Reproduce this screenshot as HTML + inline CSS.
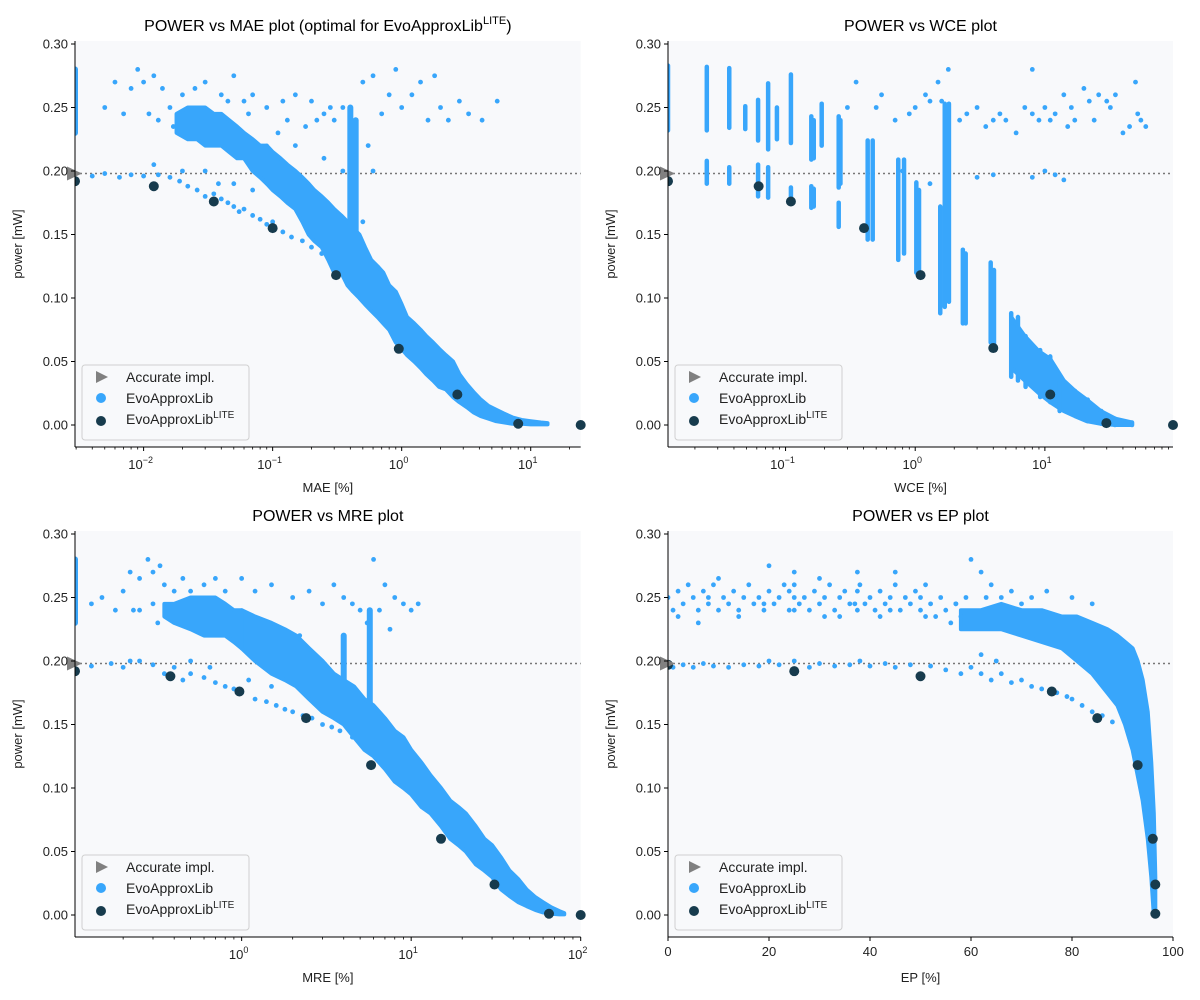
<!DOCTYPE html>
<html><head><meta charset="utf-8">
<style>
html,body{margin:0;padding:0;background:#fff;}
svg{display:block;font-family:"Liberation Sans","DejaVu Sans",sans-serif;}
</style></head>
<body>
<svg id="chart" width="1200" height="1000" viewBox="0 0 1200 1000" xmlns="http://www.w3.org/2000/svg"></svg>
<script>
// ===== DATA =====
const powerTicks=[0,0.05,0.10,0.15,0.20,0.25,0.30];
const powerTickLabels=["0.00","0.05","0.10","0.15","0.20","0.25","0.30"];
const accuratePower=0.198;

// MAE panel — main dense band
const maeBandX=[0.09,0.1,0.115,0.13,0.15,0.17,0.19,0.21,0.24,0.27,0.3,0.34,0.38,0.42,0.47,0.52,0.58,0.65,0.72,0.8,0.9,1.0,1.1,1.25,1.4,1.55,1.75,1.95,2.2,2.5,2.8,3.2,3.6,4.1,4.7,5.4,6.2,7.2,8.5,10,12,13.5];
const maeBandLo=[0.19,0.185,0.18,0.175,0.17,0.16,0.15,0.145,0.14,0.13,0.12,0.12,0.11,0.105,0.10,0.095,0.09,0.085,0.08,0.075,0.065,0.06,0.055,0.05,0.045,0.04,0.035,0.03,0.028,0.022,0.018,0.014,0.01,0.007,0.005,0.003,0.002,0.001,0.001,0.0005,0.0005,0.0005];
const maeBandHi=[0.22,0.215,0.21,0.205,0.2,0.195,0.19,0.185,0.18,0.175,0.17,0.165,0.16,0.155,0.15,0.14,0.13,0.125,0.12,0.11,0.105,0.095,0.085,0.08,0.075,0.07,0.065,0.06,0.055,0.05,0.04,0.032,0.026,0.02,0.015,0.012,0.009,0.006,0.004,0.003,0.002,0.0015];
// MAE upper cluster
const maeClusterX=[0.018,0.022,0.026,0.03,0.035,0.04,0.046,0.053,0.06,0.07,0.08,0.09];
const maeClusterLo=[0.23,0.225,0.225,0.22,0.22,0.22,0.215,0.21,0.21,0.2,0.195,0.19];
const maeClusterHi=[0.245,0.25,0.25,0.25,0.245,0.245,0.24,0.235,0.23,0.225,0.22,0.22];
// MAE streaks
const maeStreakX=[0.4,0.44,0.00294];
const maeStreakLo=[0.15,0.14,0.23];
const maeStreakHi=[0.25,0.24,0.28];
const maeX=[0.005,0.006,0.007,0.008,0.009,0.01,0.011,0.012,0.014,0.016,0.02,0.025,0.03,0.04,0.05,0.06,0.07,0.09,0.12,0.15,0.2,0.25,0.3,0.35,0.5,0.6,0.7,0.9,1.0,1.2,1.4,1.6,2.0,2.3,2.8,3.3,4.2,5.5,0.22,0.28,0.8,1.8,
 0.004,0.005,0.0065,0.008,0.01,0.013,0.016,0.019,0.022,0.026,0.03,0.035,0.04,0.045,0.05,0.055,0.06,0.07,0.08,0.09,0.1,0.12,0.14,0.17,0.2,0.24,0.28,0.33,0.03,0.05,0.07,0.012,0.02,
 0.15,0.25,0.35,0.5,0.6,0.55,0.013,0.017,0.045,0.065,0.11,0.13,0.18,0.16,0.038,0.028];
const maeY=[0.25,0.27,0.245,0.265,0.28,0.27,0.245,0.275,0.265,0.25,0.26,0.265,0.27,0.26,0.275,0.255,0.26,0.25,0.255,0.26,0.255,0.245,0.24,0.25,0.27,0.275,0.245,0.28,0.25,0.26,0.27,0.24,0.25,0.24,0.255,0.245,0.24,0.255,0.24,0.25,0.26,0.275,
 0.196,0.198,0.195,0.197,0.196,0.197,0.195,0.192,0.188,0.185,0.18,0.182,0.178,0.175,0.172,0.168,0.17,0.165,0.162,0.158,0.16,0.152,0.148,0.145,0.14,0.135,0.128,0.12,0.2,0.19,0.185,0.205,0.2,
 0.22,0.21,0.2,0.16,0.2,0.22,0.24,0.235,0.255,0.245,0.23,0.24,0.235,0.175,0.19,0.24];
const liteMaeX=[0.00294,0.012,0.035,0.1,0.31,0.95,2.7,8,24.4];
const liteMaeY=[0.192,0.188,0.176,0.155,0.118,0.060,0.024,0.001,0.0];

// WCE panel
const wceDenseX=[0.0124,0.0247,0.0247,0.0368,0.0368,0.0489,0.0614,0.0614,0.0734,0.0734,0.0858,0.110,0.110,0.158,0.158,0.165,0.165,0.19,0.257,0.257,0.265,0.43,0.47,0.74,0.82,1.02,1.07,1.56,1.69,1.82,2.33,2.45,3.82,4.05,5.5,6.2,7.1,9.2,11,13,17,21.4,27.3,34.7,47];
const wceDenseLo=[0.232,0.232,0.19,0.234,0.19,0.233,0.224,0.18,0.217,0.179,0.225,0.222,0.176,0.209,0.171,0.21,0.172,0.22,0.187,0.156,0.19,0.146,0.146,0.13,0.135,0.12,0.122,0.088,0.093,0.097,0.08,0.08,0.065,0.062,0.038,0.035,0.03,0.022,0.018,0.011,0.009,0.003,0.001,0.0,0.0];
const wceDenseHi=[0.283,0.282,0.208,0.281,0.203,0.251,0.256,0.205,0.269,0.203,0.25,0.276,0.187,0.243,0.188,0.24,0.186,0.253,0.243,0.175,0.24,0.224,0.224,0.209,0.209,0.191,0.185,0.172,0.253,0.253,0.138,0.135,0.128,0.122,0.088,0.085,0.07,0.059,0.054,0.035,0.027,0.02,0.011,0.005,0.002];
// WCE tail band (dense diagonal)
const wceBandX=[5.5,7,9,11,14,17,21,27,35,47];
const wceBandLo=[0.045,0.035,0.025,0.018,0.011,0.007,0.003,0.001,0.0,0.0];
const wceBandHi=[0.085,0.07,0.058,0.052,0.035,0.027,0.02,0.011,0.005,0.002];
const wceX=[1.2,1.5,1.6,2.5,3,3.5,4,5,6,7,8,9,10,12,14,15,16,17,20,22,24,30,32,35,40,50,52,55,60,0.5,0.55,0.7,0.9,0.35,1.0,8,0.3,1.8,1.3,2.2,4.5,11,26,45,
 0.8,1.3,3,4,10,12,14,8];
const wceY=[0.26,0.27,0.255,0.245,0.25,0.235,0.24,0.24,0.23,0.25,0.245,0.24,0.25,0.245,0.26,0.235,0.25,0.24,0.265,0.255,0.24,0.255,0.25,0.26,0.23,0.27,0.245,0.24,0.235,0.25,0.26,0.24,0.245,0.27,0.25,0.28,0.25,0.28,0.255,0.24,0.245,0.24,0.26,0.235,
 0.2,0.19,0.195,0.197,0.2,0.197,0.193,0.195];
const liteWceX=[0.0124,0.062,0.11,0.403,1.1,4.0,11.0,29.8,97.3];
const liteWceY=[0.192,0.188,0.176,0.155,0.118,0.0606,0.024,0.0015,0.0];

// MRE panel
const mreBandX=[1.0,1.2,1.5,1.8,2.1,2.5,3,3.5,4,4.6,5.3,6,7,8,9,10,11.5,13,15,17,19,21,24,27,30,34,38,43,48,54,60,67,75,80];
const mreBandLo=[0.21,0.2,0.19,0.185,0.18,0.17,0.16,0.155,0.15,0.14,0.13,0.125,0.115,0.105,0.1,0.095,0.085,0.08,0.07,0.06,0.055,0.05,0.04,0.035,0.03,0.02,0.015,0.01,0.007,0.004,0.002,0.001,0.0005,0.0005];
const mreBandHi=[0.24,0.235,0.23,0.225,0.22,0.21,0.2,0.19,0.185,0.18,0.17,0.165,0.155,0.145,0.14,0.13,0.12,0.11,0.1,0.09,0.085,0.08,0.07,0.06,0.055,0.045,0.035,0.028,0.02,0.014,0.01,0.006,0.003,0.0015];
const mreClusterX=[0.35,0.4,0.5,0.6,0.7,0.8,0.9,1.0];
const mreClusterLo=[0.235,0.23,0.225,0.22,0.22,0.22,0.215,0.21];
const mreClusterHi=[0.245,0.245,0.25,0.25,0.25,0.245,0.24,0.24];
const mreStreakX=[5.7,4.0,0.104];
const mreStreakLo=[0.14,0.17,0.23];
const mreStreakHi=[0.24,0.22,0.28];
const mreX=[0.15,0.18,0.2,0.22,0.25,0.28,0.3,0.33,0.35,0.4,0.45,0.5,0.6,0.7,0.8,1.0,1.2,1.5,2.0,2.5,3,3.5,4,4.5,5,6,7,8,9,10,11,6.5,5.5,0.13,0.23,0.32,7.5,
 0.13,0.17,0.2,0.25,0.3,0.35,0.4,0.45,0.5,0.6,0.7,0.8,0.9,1.0,1.2,1.4,1.6,1.8,2.0,2.3,2.6,3,3.4,3.8,4.5,5.0,0.22,0.5,0.65,1.1,1.5,0.25,0.3,1.3,2.2];
const mreY=[0.25,0.24,0.255,0.27,0.265,0.28,0.27,0.275,0.26,0.255,0.265,0.255,0.26,0.265,0.255,0.265,0.255,0.26,0.25,0.255,0.245,0.26,0.25,0.245,0.24,0.28,0.26,0.25,0.245,0.24,0.245,0.24,0.23,0.245,0.24,0.23,0.225,
 0.196,0.198,0.195,0.2,0.197,0.19,0.195,0.185,0.19,0.187,0.183,0.18,0.178,0.175,0.17,0.168,0.165,0.162,0.16,0.157,0.155,0.15,0.148,0.145,0.14,0.135,0.2,0.2,0.195,0.185,0.18,0.24,0.245,0.23,0.22];
const liteMreX=[0.104,0.38,0.97,2.4,5.8,15,31,65,100];
const liteMreY=[0.192,0.188,0.176,0.155,0.118,0.060,0.024,0.001,0.0];

// EP panel
const epBandX=[58,62,66,70,74,78,81,84,87,89,90.5,92,93,94,95,95.7,96.2,96.5];
const epBandLo=[0.225,0.225,0.225,0.22,0.215,0.21,0.2,0.19,0.175,0.165,0.15,0.13,0.11,0.09,0.06,0.03,0.0,0.0];
const epBandHi=[0.24,0.24,0.245,0.24,0.24,0.235,0.235,0.23,0.225,0.22,0.215,0.21,0.2,0.185,0.16,0.12,0.08,0.03];
const epX=[0,1,2,3,4,5,6,7,8,9,10,11,12,13,14,15,16,17,18,19,20,21,22,23,24,25,25,25,25,26,27,28,29,30,31,32,33,34,35,36,37.5,37.5,37.5,38,39,40,41,42,43,44,45,46,47,48,49,50,50,51,52,53,54,55,56,57,58,59,60,62,64,66,68,70,72,20,30,45,10,6,34,42,
 1,3,5,7,9,12,15,18,20,22,25,28,30,33,36,38,40,43,45,48,52,55,58,60,62,64,66,68,70,72,74,77,79,80,82,84,86,88,62,65,
 2,8,14,19,24,31,37,44,51,57,63,75,80,84];
const epY=[0.25,0.24,0.255,0.245,0.26,0.25,0.24,0.255,0.245,0.26,0.24,0.25,0.245,0.255,0.24,0.25,0.26,0.245,0.25,0.24,0.255,0.245,0.25,0.26,0.255,0.27,0.26,0.25,0.24,0.245,0.25,0.24,0.255,0.245,0.25,0.26,0.24,0.25,0.255,0.245,0.27,0.255,0.24,0.26,0.245,0.25,0.24,0.255,0.245,0.25,0.26,0.24,0.25,0.245,0.255,0.25,0.24,0.26,0.245,0.235,0.25,0.24,0.23,0.245,0.235,0.25,0.28,0.27,0.26,0.25,0.255,0.245,0.25,0.275,0.265,0.27,0.265,0.23,0.235,0.235,
 0.195,0.197,0.195,0.198,0.196,0.195,0.197,0.196,0.2,0.197,0.2,0.195,0.198,0.196,0.197,0.2,0.196,0.198,0.195,0.197,0.196,0.193,0.19,0.195,0.19,0.185,0.19,0.183,0.185,0.18,0.178,0.175,0.172,0.17,0.165,0.16,0.157,0.152,0.205,0.2,
 0.235,0.25,0.235,0.245,0.24,0.235,0.245,0.24,0.235,0.245,0.25,0.255,0.25,0.245];
const liteEpX=[0,25,50,76,85,93,96,96.5,96.5];
const liteEpY=[0.197,0.192,0.188,0.176,0.155,0.118,0.060,0.024,0.001];

// ===== DRAWING =====
const NS="http://www.w3.org/2000/svg";
const svg=document.getElementById('chart');
const BLUE="#38a6fb", DARK="#173b4d", GRAY="#808080";
function el(tag,attrs,parent){const e=document.createElementNS(NS,tag);for(const k in attrs)e.setAttribute(k,attrs[k]);(parent||svg).appendChild(e);return e;}

function panel(cfg){
  const g=el('g',{});
  
  
  const L=cfg.x0,R=cfg.x1,T=cfg.top,B=cfg.bottom,Z=cfg.zero;
  const yS=p=>Z-p*1270;
  let xS;
  if(cfg.log){const a=Math.log10(cfg.xmin),b=Math.log10(cfg.xmax);xS=v=>L+(Math.log10(v)-a)/(b-a)*(R-L);}
  else{xS=v=>L+(v-cfg.xmin)/(cfg.xmax-cfg.xmin)*(R-L);}
  const bg=el('rect',{x:L,y:T,width:R-L,height:B-T,fill:'#f8f9fb'},g);
  
  
  const clipId='clip-'+cfg.name;
  const cp=el('clipPath',{id:clipId},g);el('rect',{x:L,y:T-5,width:R-L+8,height:B-T+5},cp);
  const data=el('g',{'clip-path':'url(#'+clipId+')'},g);
  const dl=el('line',{x1:L,x2:R,y1:yS(accuratePower),y2:yS(accuratePower),stroke:'#777','stroke-width':1.5,'stroke-dasharray':'2,3'},data);
  
  
  // dense bands (polygons)
  (cfg.bands||[]).forEach(bd=>{
    const [bx,blo,bhi]=bd;
    const pts=[];
    for(let i=0;i<bx.length;i++)pts.push(xS(bx[i])+','+yS(bhi[i]));
    for(let i=bx.length-1;i>=0;i--)pts.push(xS(bx[i])+','+yS(blo[i]));
    const p=el('polygon',{points:pts.join(' '),fill:BLUE,stroke:BLUE,'stroke-width':4,'stroke-linejoin':'round'},data);
    
    
  });
  // dense vertical streaks
  for(let i=0;i<cfg.dx.length;i++){
    const s=el('line',{x1:xS(cfg.dx[i]),x2:xS(cfg.dx[i]),y1:yS(cfg.dlo[i]),y2:yS(cfg.dhi[i]),stroke:BLUE,'stroke-width':cfg.w||5,'stroke-linecap':'round'},data);
    
    
  }
  for(let i=0;i<cfg.px.length;i++){
    const c=el('circle',{cx:xS(cfg.px[i]),cy:yS(cfg.py[i]),r:2.4,fill:BLUE},data);
    
    
  }
  for(let i=0;i<cfg.lx.length;i++){
    const c=el('circle',{cx:xS(cfg.lx[i]),cy:yS(cfg.ly[i]),r:5,fill:DARK},data);
    
    
  }
  const ax=xS(cfg.xmin),ay=yS(accuratePower);
  const tri=el('polygon',{points:`${ax-8},${ay-7} ${ax+7},${ay} ${ax-8},${ay+7}`,fill:GRAY},g);
  
  
  el('line',{x1:L,x2:L,y1:T,y2:B,stroke:'#000','stroke-width':1},g);
  el('line',{x1:L,x2:R,y1:B,y2:B,stroke:'#000','stroke-width':1},g);
  powerTicks.forEach((v,i)=>{
    const y=yS(v);
    el('line',{x1:L-4,x2:L,y1:y,y2:y,stroke:'#000'},g);
    const t=el('text',{x:L-7,y:y+4.5,'text-anchor':'end','font-size':13,fill:'#222'},g);
    t.textContent=powerTickLabels[i];
    
    
  });
  if(cfg.log){
    const a=Math.floor(Math.log10(cfg.xmin)),b=Math.ceil(Math.log10(cfg.xmax));
    for(let d=a;d<=b;d++){
      for(let m=1;m<10;m++){
        const v=m*Math.pow(10,d);
        if(v<cfg.xmin*0.999||v>cfg.xmax*1.001)continue;
        const x=xS(v);
        el('line',{x1:x,x2:x,y1:B,y2:B+(m===1?4:2.5),stroke:'#000','stroke-width':m===1?1:0.8},g);
        if(m===1){
          const t=el('text',{x:x-3,y:B+22,'text-anchor':'middle','font-size':13,fill:'#222'},g);
          
          
          const s1=el('tspan',{},t);s1.textContent='10';
          const s2=el('tspan',{dy:-6,'font-size':9},t);s2.textContent=String(d).replace('-','\u2212');
        }
      }
    }
  } else {
    cfg.ticks.forEach(v=>{
      const x=xS(v);
      el('line',{x1:x,x2:x,y1:B,y2:B+4,stroke:'#000'},g);
      const t=el('text',{x:x,y:B+19,'text-anchor':'middle','font-size':13,fill:'#222'},g);
      t.textContent=String(v);
      
      
    });
  }
  const xl=el('text',{x:(L+R)/2,y:B+45,'text-anchor':'middle','font-size':13,fill:'#222'},g);
  xl.textContent=cfg.xlabel;
  
  
  const yl=el('text',{x:0,y:0,'text-anchor':'middle','font-size':13,fill:'#222',transform:`translate(${L-53},${(T+B)/2}) rotate(-90)`},g);
  yl.textContent='power [mW]';
  
  
  const ti=el('text',{x:(L+R)/2,y:T-10,'text-anchor':'middle','font-size':16,fill:'#000'},g);
  
  
  const t1=el('tspan',{},ti);t1.textContent=cfg.title;
  if(cfg.titleSup){const t2=el('tspan',{dy:-7,'font-size':11},ti);t2.textContent='LITE';const t3=el('tspan',{dy:7},ti);t3.textContent=')';}
  const lg=el('g',{},g);
  
  
  const lx=L+7,ly=B-82;
  el('rect',{x:lx,y:ly,width:167,height:75,rx:3,fill:'#f8f9fb',stroke:'#d0d0d0'},lg);
  el('polygon',{points:`${lx+14},${ly+6} ${lx+26},${ly+12} ${lx+14},${ly+18}`,fill:GRAY},lg);
  el('circle',{cx:lx+19,cy:ly+33,r:5,fill:BLUE},lg);
  el('circle',{cx:lx+19,cy:ly+56,r:5,fill:DARK},lg);
  const names=['Accurate impl.','EvoApproxLib','EvoApproxLib'];
  const nn=['legend-entry-accurate','legend-entry-evoapproxlib','legend-entry-lite'];
  names.forEach((n,i)=>{
    const t=el('text',{x:lx+44,y:ly+17+i*21,'font-size':14,fill:'#222'},lg);
    
    
    const a=el('tspan',{},t);a.textContent=n;
    if(i===2){const s=el('tspan',{dy:-6,'font-size':10},t);s.textContent='LITE';}
  });
}

panel({name:'mae',x0:75,x1:580.7,top:41,bottom:447,zero:425,log:true,xmin:0.00294,xmax:24.4,
  bands:[[maeBandX,maeBandLo,maeBandHi],[maeClusterX,maeClusterLo,maeClusterHi]],
  dx:maeStreakX,dlo:maeStreakLo,dhi:maeStreakHi,px:maeX,py:maeY,lx:liteMaeX,ly:liteMaeY,
  xlabel:'MAE [%]',title:'POWER vs MAE plot (optimal for EvoApproxLib',titleSup:true,w:6});
panel({name:'wce',x0:668,x1:1173,top:41,bottom:447,zero:425,log:true,xmin:0.0124,xmax:97.3,
  bands:[[wceBandX,wceBandLo,wceBandHi]],
  dx:wceDenseX,dlo:wceDenseLo,dhi:wceDenseHi,px:wceX,py:wceY,lx:liteWceX,ly:liteWceY,
  xlabel:'WCE [%]',title:'POWER vs WCE plot',w:4.5});
panel({name:'mre',x0:75,x1:580.7,top:531,bottom:937,zero:915,log:true,xmin:0.104,xmax:100,
  bands:[[mreBandX,mreBandLo,mreBandHi],[mreClusterX,mreClusterLo,mreClusterHi]],
  dx:mreStreakX,dlo:mreStreakLo,dhi:mreStreakHi,px:mreX,py:mreY,lx:liteMreX,ly:liteMreY,
  xlabel:'MRE [%]',title:'POWER vs MRE plot',w:6});
panel({name:'ep',x0:668,x1:1173,top:531,bottom:937,zero:915,log:false,xmin:0,xmax:100,ticks:[0,20,40,60,80,100],
  bands:[[epBandX,epBandLo,epBandHi]],
  dx:[],dlo:[],dhi:[],px:epX,py:epY,lx:liteEpX,ly:liteEpY,
  xlabel:'EP [%]',title:'POWER vs EP plot',w:5});
</script>
</body></html>
